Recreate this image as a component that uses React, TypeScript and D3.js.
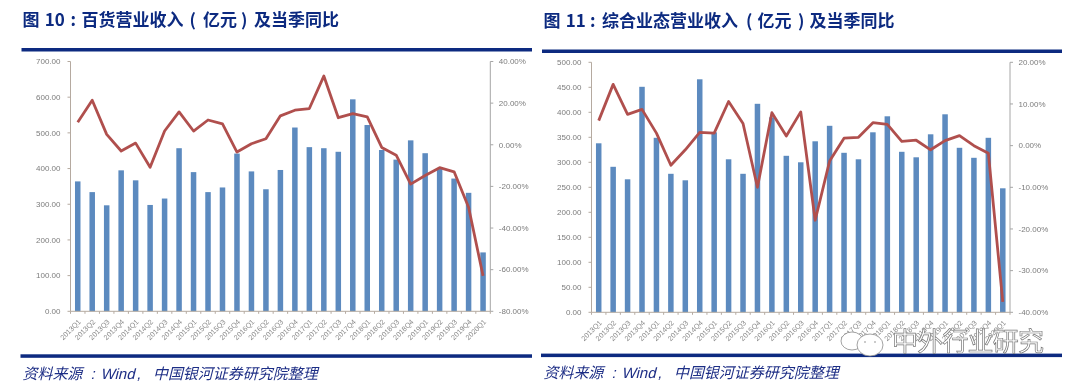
import React from "react";
import * as d3 from "d3";

const quarters = ["2013Q1","2013Q2","2013Q3","2013Q4","2014Q1","2014Q2","2014Q3","2014Q4","2015Q1","2015Q2","2015Q3","2015Q4","2016Q1","2016Q2","2016Q3","2016Q4","2017Q1","2017Q2","2017Q3","2017Q4","2018Q1","2018Q2","2018Q3","2018Q4","2019Q1","2019Q2","2019Q3","2019Q4","2020Q1"];
const deptRevenue = [364,334,297,395,367,298,316,457,390,334,347,442,392,342,396,515,460,457,447,594,522,452,425,479,443,400,372,332,165];
const deptYoY = [10.8,21.4,5,-3,0.8,-10.8,6.6,15.8,6.6,11.9,10,-3.5,0.5,2.9,13.9,16.6,17.4,33,13,15,13.4,-1.3,-5,-18.9,-14.8,-11,-13,-30,-63];
const mixedRevenue = [338,291,266,451,349,277,264,466,360,306,277,417,390,313,300,342,373,319,306,360,392,321,310,356,396,329,309,349,248];
const mixedYoY = [6,14.7,7.5,8.7,3,-4.7,-1,3.2,3,10.6,5.3,-10,7.9,2.3,8.1,-17.9,-3.7,1.8,2,5.5,5.1,1,1.3,-1,1.2,2.4,0,-1.8,-37.5];
const deptLeftTicks = [0,100,200,300,400,500,600,700];
const deptRightTicks = [-80,-60,-40,-20,0,20,40];
const mixedLeftTicks = [0,50,100,150,200,250,300,350,400,450,500];
const mixedRightTicks = [-40,-30,-20,-10,0,10,20];
const sourceParts = ["资料来源", ":", "Wind", ",", "中国银河证券研究院整理"];

const NAVY = "#0b2a80";
const SANS = "Liberation Sans, Arial, sans-serif";
const CJK = "'Noto Sans CJK SC', 'Liberation Sans', sans-serif";

type PanelProps = {
  titleParts: [string, number][]; revenue: number[]; yoy: number[];
  leftTicks: number[]; rightTicks: number[];
  x0: number; x1: number; top: number; bottom: number;
  ruleX0: number; ruleX1: number; ruleTop: number; ruleBottom: number;
  titleX: number; titleY: number; sourceY: number;
};

function Panel(p: PanelProps) {
  const x = d3.scaleBand<string>().domain(quarters).range([p.x0, p.x1]);
  const yL = d3.scaleLinear().domain(d3.extent(p.leftTicks) as [number, number]).range([p.bottom, p.top]);
  const yR = d3.scaleLinear().domain(d3.extent(p.rightTicks) as [number, number]).range([p.bottom, p.top]);
  const cx = (q: string) => x(q)! + x.bandwidth() / 2;
  const bw = 5.5;
  const line = d3.line<number>().x((_, i) => cx(quarters[i])).y(d => yR(d));
  const srcDx = [0, 68, 78, 114, 130.5];
  return (
    <g>
      <text y={p.titleY} fontFamily={CJK} fontWeight={700} fontSize={17} fill={NAVY}>
        {p.titleParts.map(([t, dx], i) => <tspan key={i} x={p.titleX + dx}>{t}</tspan>)}
      </text>
      <rect x={p.ruleX0} y={p.ruleTop} width={p.ruleX1 - p.ruleX0} height={3.5} fill={NAVY} />
      {p.revenue.map((v, i) => (
        <rect key={i} x={cx(quarters[i]) - bw / 2} y={yL(v)} width={bw} height={p.bottom - yL(v)} fill="#5b8abf" />
      ))}
      <line x1={p.x0} x2={p.x0} y1={p.top} y2={p.bottom} stroke="#b5aaa0" />
      <line x1={p.x0} x2={p.x1} y1={p.bottom} y2={p.bottom} stroke="#b5aaa0" />
      <line x1={p.x1} x2={p.x1} y1={p.top} y2={p.bottom} stroke="#a6a6a6" />
      {p.leftTicks.map(t => (
        <g key={t}>
          <line x1={p.x0 - 3} x2={p.x0} y1={yL(t)} y2={yL(t)} stroke="#b5aaa0" />
          <text x={p.x0 - 10} y={yL(t) + 2.8} textAnchor="end" fontFamily={SANS} fontSize={8} fill="#7c7c7c">{t.toFixed(2)}</text>
        </g>
      ))}
      {p.rightTicks.map(t => (
        <g key={t}>
          <line x1={p.x1} x2={p.x1 + 3} y1={yR(t)} y2={yR(t)} stroke="#a6a6a6" />
          <text x={p.x1 + 8.5} y={yR(t) + 2.8} fontFamily={SANS} fontSize={8} fill="#7c7c7c">{t.toFixed(2)}%</text>
        </g>
      ))}
      {quarters.map((q, i) => (
        <g key={q}>
          <line x1={x(q)!} x2={x(q)!} y1={p.bottom} y2={p.bottom + 2.5} stroke="#b5aaa0" />
          {i === quarters.length - 1 && <line x1={p.x1} x2={p.x1} y1={p.bottom} y2={p.bottom + 2.5} stroke="#b5aaa0" />}
          <text transform={`translate(${cx(q) + 3.5},${p.bottom + 11}) rotate(-45)`} textAnchor="end" fontFamily={SANS} fontSize={7.2} fill="#8a8a8a">{q}</text>
        </g>
      ))}
      <path d={line(p.yoy)!} fill="none" stroke="#b0504e" strokeWidth={2.8} strokeLinejoin="round" />
      <rect x={p.ruleX0 - 1} y={p.ruleBottom} width={p.ruleX1 - p.ruleX0 + 1} height={3.5} fill={NAVY} />
      <text transform={`translate(${p.titleX},${p.sourceY}) skewX(-14)`} fontSize={15} fill="#1f2f86" fontFamily={CJK}>
        {sourceParts.map((t, i) => (
          <tspan key={i} x={srcDx[i]} fontFamily={i >= 1 && i <= 3 ? SANS : CJK}>{t}</tspan>
        ))}
      </text>
    </g>
  );
}

export default function App() {
  return (
    <svg width={1080} height={388} style={{ position: "absolute", left: 0, top: 0, background: "#fff" }}>
      <defs>
        <filter id="soft" x="0" y="0" width="100%" height="100%" filterUnits="userSpaceOnUse" primitiveUnits="userSpaceOnUse">
          <feGaussianBlur stdDeviation="0.35" />
        </filter>
      </defs>
      <g filter="url(#soft)">
        <rect width={1080} height={388} fill="#fff" />
        <Panel titleParts={[["图", 0], ["10", 22.4], [":", 48.2], ["百货营业收入", 59.2], ["(", 167], ["亿元", 180.6], [")", 218.6], ["及当季同比", 231.6]]}
          revenue={deptRevenue} yoy={deptYoY} leftTicks={deptLeftTicks} rightTicks={deptRightTicks}
          x0={70.5} x1={490.3} top={61.5} bottom={311.3} ruleX0={21.5} ruleX1={532} ruleTop={48} ruleBottom={354.3}
          titleX={22.4} titleY={26} sourceY={379} />
        <Panel titleParts={[["图", 0], ["11", 22.4], [":", 46.6], ["综合业态营业收入", 58.6], ["(", 202.6], ["亿元", 214.2], [")", 254.6], ["及当季同比", 266.2]]}
          revenue={mixedRevenue} yoy={mixedYoY} leftTicks={mixedLeftTicks} rightTicks={mixedRightTicks}
          x0={591.5} x1={1010} top={62.3} bottom={312.3} ruleX0={542} ruleX1={1062} ruleTop={49.5} ruleBottom={353.6}
          titleX={543.4} titleY={27} sourceY={378} />
        <g fill="#fff" stroke="#8a8a8a" strokeWidth={0.8}>
          <ellipse cx={852} cy={341} rx={11} ry={9} />
          <ellipse cx={870} cy={345} rx={13} ry={11} />
          <circle cx={865} cy={342} r={0.8} fill="#8a8a8a" stroke="none" />
          <circle cx={875} cy={342} r={0.8} fill="#8a8a8a" stroke="none" />
        </g>
        <text x={892} y={351} fontFamily={CJK} fontSize={26} textLength={152} fill="#fff" stroke="#777" strokeWidth={0.7}>中外行业研究</text>
      </g>
    </svg>
  );
}
